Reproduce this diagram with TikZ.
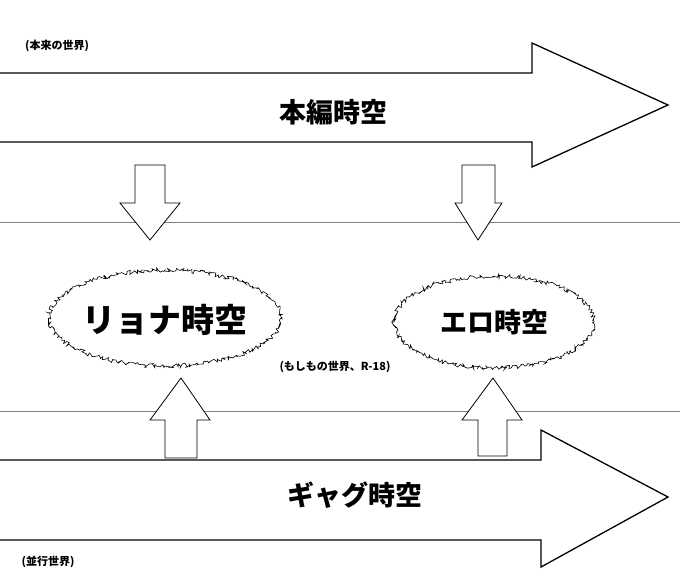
\documentclass[tikz,border=0pt]{standalone}
\usepackage{fontspec}
\setmainfont{Noto Sans CJK JP}
\usetikzlibrary{decorations.pathmorphing}
\begin{document}
\begin{tikzpicture}[x=1pt,y=-1pt,
  arr/.style={draw=black,line width=1.3pt,fill=white,line join=miter},
  sarr/.style={draw=black,line width=0.8pt,fill=white},
  fuzzy/.style={draw=black,line width=0.6pt,fill=white,decorate,decoration={random steps,segment length=1.5pt,amplitude=2.2pt}},
  big/.style={font=\bfseries\fontsize{33}{38}\selectfont},
  mid/.style={font=\bfseries\fontsize{27}{32}\selectfont},
  small/.style={font=\bfseries\fontsize{11}{13}\selectfont}]
\useasboundingbox (0,0) rectangle (680,583);
\fill[white] (0,0) rectangle (680,583);
% top big arrow
\draw[arr] (-2,73) -- (532,73) -- (532,43) -- (668,105) -- (532,167) -- (532,142) -- (-2,142);
\node[mid] (hon) at (333,112) {本編時空};
\node[small] (honrai) at (57,46) {(本来の世界)};
% gray lines
\draw[gray] (0,222) coordinate (l1a) -- (680,222) coordinate (l1b);
\draw[gray] (0,411) coordinate (l2a) -- (680,411) coordinate (l2b);
% down arrows
\draw[sarr] (135,165) -- (165,165) -- (165,203) -- (180,203) -- (150,240) -- (120,203) -- (135,203) -- cycle;
\draw[sarr] (462,165) -- (495,165) -- (495,203) -- (502,203) -- (478,240) -- (455,203) -- (462,203) -- cycle;
% up arrows
\draw[sarr] (165,458) -- (197,458) -- (197,420) -- (210,420) -- (181,378) -- (150,420) -- (165,420) -- cycle;
\draw[sarr] (478,456) -- (507,456) -- (507,420) -- (522,420) -- (493,378) -- (462,420) -- (478,420) -- cycle;
% ellipses
\draw[fuzzy] (165,318) ellipse [x radius=116, y radius=48];
\draw[fuzzy] (494,322) ellipse [x radius=100, y radius=46];
\node[big] (ryona) at (165,320) {リョナ時空};
\node[mid] (ero) at (494,322) {エロ時空};
\node[small] (moshi) at (335,367) {(もしもの世界、R-18)};
% bottom big arrow
\draw[arr] (-2,460) -- (541,460) -- (541,430) -- (668,497) -- (541,567) -- (541,540) -- (-2,540);
\node[mid] (gag) at (355,495) {ギャグ時空};
\node[small] (heiko) at (48,562) {(並行世界)};
\end{tikzpicture}
\end{document}
